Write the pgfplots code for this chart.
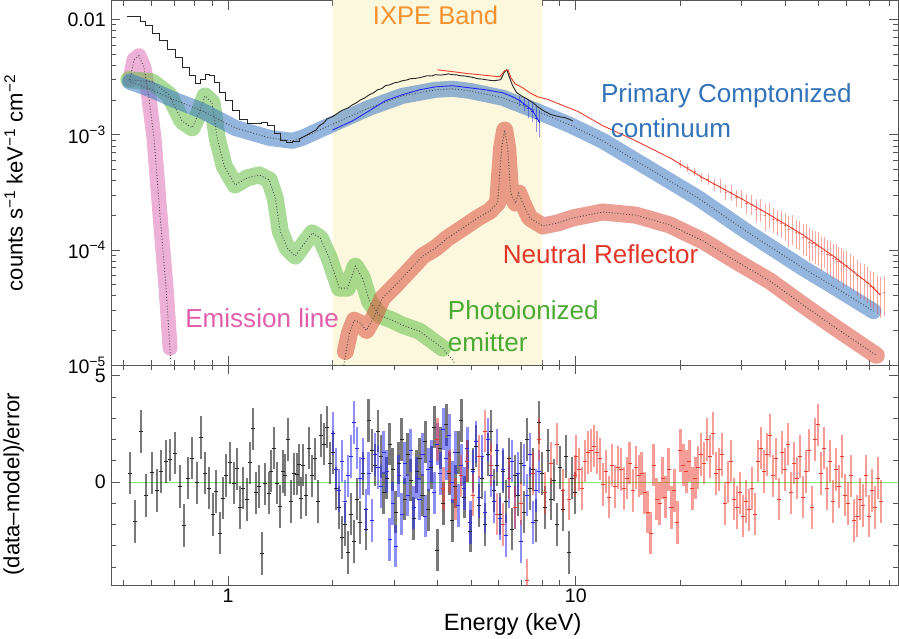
\documentclass[border=0pt]{standalone}
\usepackage{fontspec}
\setmainfont{Liberation Sans}
\usepackage{pgfplots}
\pgfplotsset{compat=1.18}

\definecolor{ixpe}{RGB}{252,248,222}
\definecolor{bandblue}{RGB}{60,120,195}
\definecolor{bandgreen}{RGB}{100,190,70}
\definecolor{bandpink}{RGB}{220,100,175}
\definecolor{bandred}{RGB}{220,80,60}
\definecolor{txtorange}{RGB}{245,146,47}
\definecolor{txtblue}{RGB}{50,115,185}
\definecolor{txtred}{RGB}{225,55,40}
\definecolor{txtgreen}{RGB}{75,170,50}
\definecolor{txtpink}{RGB}{225,95,170}
\definecolor{datblue}{RGB}{40,40,245}
\definecolor{datred}{RGB}{235,60,45}
\definecolor{axgray}{RGB}{85,85,85}
\definecolor{zeroline}{RGB}{140,230,120}

\tikzset{
  bnd/.style={line cap=round, line join=round, opacity=#1},
  mdlline/.style={black!70, dotted, line width=0.9pt},
  lbl/.style={anchor=west, inner sep=0pt, font=\fontsize{26}{30}\selectfont},
}

\begin{document}
\begin{tikzpicture}
% ---------- spectrum ----------
\begin{loglogaxis}[name=top, scale only axis, width=785pt, height=363.7pt,
    xmin=0.461, xmax=84.7, ymin=1e-5, ymax=0.01462,
    axis line style={draw=axgray, line width=1.2pt},
    tick style={draw=axgray, line width=1pt},
    major tick length=9pt, minor tick length=5pt,
    tick align=inside, xtick pos=both, ytick pos=both,
    xtick={1,10},
    minor xtick={0.5,0.6,0.7,0.8,0.9,2,3,4,5,6,7,8,9,20,30,40,50,60,70,80},
    xticklabels={},
    ytick={1e-5,1e-4,1e-3,1e-2},
    yticklabels={10\textsuperscript{−5},10\textsuperscript{−4},10\textsuperscript{−3},0.01},
    minor ytick={2e-5,3e-5,4e-5,5e-5,6e-5,7e-5,8e-5,9e-5,2e-4,3e-4,4e-4,5e-4,6e-4,7e-4,8e-4,9e-4,2e-3,3e-3,4e-3,5e-3,6e-3,7e-3,8e-3,9e-3},
    tick label style={font=\fontsize{19.5}{22}\selectfont},
    yticklabel style={xshift=-2pt},
    ylabel={counts s\textsuperscript{−1} keV\textsuperscript{−1} cm\textsuperscript{−2}},
    ylabel style={font=\fontsize{22}{25}\selectfont, at={(axis description cs:-0.124,0.5)}, anchor=center},
  ]
  % IXPE band
  \addplot[draw=none, fill=ixpe] coordinates {(2,1e-5) (2,0.02) (8,0.02) (8,1e-5) (2,1e-5)};

  % emission line
  \addplot[bandpink, line width=15pt, bnd=0.5] coordinates {
    (0.522,0.00301) (0.536,0.00449) (0.554,0.00487) (0.573,0.00383) (0.592,0.00210)
    (0.612,0.000942) (0.628,0.000346) (0.645,0.000127) (0.663,4.68e-5) (0.681,1.41e-5)};
  % photoionized emitter
  \addplot[bandgreen, line width=17pt, bnd=0.55] coordinates {
    (0.518,0.00301) (0.604,0.00289) (0.676,0.00223) (0.737,0.00132) (0.788,0.00115)
    (0.825,0.00155) (0.858,0.00218) (0.899,0.00190) (0.930,0.000942) (0.974,0.000537)
    (1.047,0.000367) (1.134,0.000423) (1.228,0.000449) (1.313,0.000406) (1.366,0.000283)
    (1.412,0.000146) (1.479,0.000104) (1.560,8.87e-5) (1.634,0.000108) (1.746,0.000141)
    (1.842,0.000127) (1.954,8.51e-5) (2.089,4.68e-5) (2.203,4.68e-5) (2.323,7.26e-5)
    (2.433,5.72e-5) (2.549,3.61e-5) (2.724,2.72e-5) (2.969,2.46e-5) (3.173,2.23e-5)
    (3.551,1.98e-5) (4.138,1.41e-5)};
  % neutral reflector
  \addplot[bandred, line width=17pt, bnd=0.55] coordinates {
    (2.174,1.32e-5) (2.232,1.90e-5) (2.307,2.46e-5) (2.401,2.32e-5) (2.499,2.01e-5)
    (2.635,2.67e-5) (2.779,3.83e-5) (3.029,4.97e-5) (3.324,6.70e-5) (3.623,8.87e-5)
    (3.950,0.000104) (4.277,0.000127) (4.725,0.000155) (5.220,0.000190) (5.651,0.000218)
    (5.958,0.000256) (6.119,0.000771) (6.245,0.00110) (6.368,0.000771) (6.495,0.000313)
    (6.714,0.000256) (6.850,0.000313) (7.036,0.000256) (7.370,0.000190) (8.035,0.000162)
    (8.874,0.000172) (9.80,0.000190) (11.96,0.000214) (14.89,0.000201) (18.66,0.000165)
    (23.23,0.000120) (28.91,8.02e-5) (36.24,5.37e-5) (45.1,3.33e-5) (56.1,2.10e-5)
    (73.2,1.22e-5)};
  % primary continuum
  \addplot[bandblue, line width=16pt, bnd=0.55] coordinates {
    (0.522,0.00289) (0.604,0.00246) (0.676,0.00210) (0.841,0.00162) (1.047,0.00115)
    (1.313,0.000942) (1.529,0.000887) (1.634,0.000942) (2.034,0.00127) (2.549,0.00172)
    (3.173,0.00218) (3.950,0.00246) (4.421,0.00251) (4.950,0.00241) (6.16,0.00210)
    (7.67,0.00162) (9.61,0.00122) (11.96,0.000887) (16.67,0.000486) (22.47,0.000283)
    (30.9,0.000146) (45.1,6.97e-5) (56.1,4.68e-5) (71.8,2.95e-5)};

  % model components (dotted)
  \addplot[mdlline] coordinates {
    (0.522,0.00301) (0.536,0.00449) (0.554,0.00487) (0.573,0.00383) (0.592,0.00210)
    (0.612,0.000942) (0.628,0.000346) (0.645,0.000127) (0.663,4.68e-5) (0.685,1.0e-5)};
  \addplot[mdlline] coordinates {
    (0.518,0.00301) (0.604,0.00289) (0.676,0.00223) (0.737,0.00132) (0.788,0.00115)
    (0.825,0.00155) (0.858,0.00218) (0.899,0.00190) (0.930,0.000942) (0.974,0.000537)
    (1.047,0.000367) (1.134,0.000423) (1.228,0.000449) (1.313,0.000406) (1.366,0.000283)
    (1.412,0.000146) (1.479,0.000104) (1.560,8.87e-5) (1.634,0.000108) (1.746,0.000141)
    (1.842,0.000127) (1.954,8.51e-5) (2.089,4.68e-5) (2.203,4.68e-5) (2.323,7.26e-5)
    (2.433,5.72e-5) (2.549,3.61e-5) (2.724,2.72e-5) (2.969,2.46e-5) (3.173,2.23e-5)
    (3.551,1.98e-5) (4.138,1.41e-5) (4.51,1.03e-5)};
  \addplot[mdlline] coordinates {
    (2.15,1.0e-5) (2.232,1.90e-5) (2.307,2.46e-5) (2.401,2.32e-5) (2.499,2.01e-5)
    (2.635,2.67e-5) (2.779,3.83e-5) (3.029,4.97e-5) (3.324,6.70e-5) (3.623,8.87e-5)
    (3.950,0.000104) (4.277,0.000127) (4.725,0.000155) (5.220,0.000190) (5.651,0.000218)
    (5.958,0.000256) (6.119,0.000771) (6.245,0.00110) (6.368,0.000771) (6.495,0.000313)
    (6.714,0.000256) (6.850,0.000313) (7.036,0.000256) (7.370,0.000190) (8.035,0.000162)
    (8.874,0.000172) (9.80,0.000190) (11.96,0.000214) (14.89,0.000201) (18.66,0.000165)
    (23.23,0.000120) (28.91,8.02e-5) (36.24,5.37e-5) (45.1,3.33e-5) (56.1,2.10e-5)
    (73.2,1.22e-5)};
  \addplot[mdlline] coordinates {
    (0.522,0.00289) (0.604,0.00246) (0.676,0.00210) (0.841,0.00162) (1.047,0.00115)
    (1.313,0.000942) (1.529,0.000887) (1.634,0.000942) (2.034,0.00127) (2.549,0.00172)
    (3.173,0.00218) (3.950,0.00246) (4.421,0.00251) (4.950,0.00241) (6.16,0.00210)
    (7.67,0.00162) (9.61,0.00122) (11.96,0.000887) (16.67,0.000486) (22.47,0.000283)
    (30.9,0.000146) (45.1,6.97e-5) (56.1,4.68e-5) (71.8,2.95e-5)};

  % data: black
  \addplot[black!85, line width=0.9pt, const plot] coordinates {
    (0.512,0.01062) (0.540,0.0106) (0.558,0.00961) (0.577,0.00887) (0.604,0.00756)
    (0.633,0.00657) (0.667,0.00548) (0.704,0.00468) (0.737,0.00383) (0.772,0.00326)
    (0.803,0.00278) (0.830,0.00301) (0.858,0.00333) (0.882,0.00326) (0.911,0.00283)
    (0.942,0.00232) (0.980,0.00198) (1.027,0.00162) (1.076,0.00135) (1.134,0.00125)
    (1.188,0.00125) (1.245,0.00127) (1.296,0.00120) (1.357,0.00102) (1.412,0.000887)
    (1.469,0.000852) (1.529,0.000869) (1.602,0.000923)};
  \addplot[black!85, line width=0.9pt] coordinates {
    (1.602,0.000923) (1.667,0.000980) (1.746,0.00106) (1.79,0.00110) (1.829,0.00120)
    (1.88,0.00126) (1.929,0.00138) (1.98,0.00142) (2.034,0.00149) (2.09,0.00158)
    (2.145,0.00165) (2.21,0.00171) (2.277,0.00182) (2.34,0.00190) (2.401,0.00201)
    (2.47,0.00209) (2.549,0.00223) (2.62,0.00232) (2.688,0.00246) (2.76,0.00251)
    (2.835,0.00267) (2.92,0.00272) (3.009,0.00283) (3.09,0.00287) (3.173,0.00295)
    (3.26,0.00299) (3.346,0.00307) (3.45,0.00309) (3.551,0.00313) (3.65,0.00320)
    (3.745,0.00326) (3.85,0.00324) (3.950,0.00333) (4.07,0.00330) (4.194,0.00333)
    (4.30,0.00338) (4.421,0.00333) (4.54,0.00331) (4.663,0.00326) (4.80,0.00324)
    (4.950,0.00319) (5.08,0.00314) (5.220,0.00307) (5.36,0.00305) (5.504,0.00301)
    (5.68,0.00297) (5.843,0.00295) (6.08,0.00301) (6.24,0.00353) (6.33,0.00367)
    (6.45,0.00313) (6.58,0.00267) (6.76,0.00232) (7.04,0.00214) (7.20,0.00207)
    (7.37,0.00198) (7.57,0.00188) (7.77,0.00175) (7.98,0.00166) (8.19,0.00158)
    (8.48,0.00150) (8.76,0.00146) (9.03,0.00143) (9.30,0.00141) (9.55,0.00137) (9.80,0.00132)};
  % data: blue
  \addplot[datblue, line width=0.9pt] coordinates {
    (1.994,0.00110) (2.277,0.00132) (2.549,0.00162) (2.835,0.00198) (3.173,0.00223)
    (3.551,0.00246) (3.950,0.00261) (4.421,0.00267) (4.950,0.00256) (5.504,0.00246)
    (6.16,0.00232) (6.58,0.00214) (6.90,0.00198) (7.52,0.00162) (7.88,0.00127)};
  \addplot[datblue, only marks, mark=-, mark size=1pt, mark options={line width=0.5pt},
      error bars/.cd, y dir=both, y explicit,
      error bar style={line width=0.7pt, draw opacity=0.5}, error mark=none] coordinates {
    (6.9,0.00198) +- (0,0.0002) (7.1,0.00185) +- (0,0.00025) (7.3,0.00170) +- (0,0.0003)
    (7.5,0.00160) +- (0,0.0003) (7.7,0.00140) +- (0,0.00035) (7.85,0.00130) +- (0,0.00035)};
  % data: red
  \addplot[datred, line width=0.9pt] coordinates {
    (4.00,0.00367) (4.95,0.00339) (6.04,0.00319) (6.24,0.00360) (6.38,0.00367)
    (6.51,0.00313) (6.69,0.00277) (7.04,0.00256) (7.37,0.00232) (7.77,0.00214)
    (8.31,0.00203) (9.17,0.00180) (10.13,0.00160) (11.96,0.00120) (14.89,0.000887)
    (18.66,0.000631) (23.23,0.000423) (29.70,0.000283) (36.24,0.000201) (45.1,0.000135)
    (56.1,8.51e-5) (70.4,4.97e-5) (75.2,4.07e-5)};
  \addplot[datred, only marks, mark=-, mark size=1.2pt, mark options={line width=0.5pt, opacity=0.6},
      error bars/.cd, y dir=both, y explicit,
      error bar style={line width=0.8pt, draw opacity=0.45}, error mark=none] coordinates {
    (20,5.6e-4) +- (0,0.4e-4) (21,5.2e-4) +- (0,0.4e-4) (22,4.8e-4) +- (0,0.4e-4)
    (23,4.3e-4) +- (0,0.4e-4) (24,4.1e-4) +- (0,0.45e-4) (25,3.7e-4) +- (0,0.45e-4)
    (26,3.6e-4) +- (0,0.5e-4) (27,3.2e-4) +- (0,0.5e-4) (28,3.15e-4) +- (0,0.5e-4)
    (29,2.85e-4) +- (0,0.5e-4) (30,2.8e-4) +- (0,0.5e-4) (31,2.55e-4) +- (0,0.5e-4)
    (32,2.5e-4) +- (0,0.5e-4) (33,2.25e-4) +- (0,0.5e-4) (34,2.25e-4) +- (0,0.5e-4)
    (35,2.0e-4) +- (0,0.5e-4) (36,2.05e-4) +- (0,0.5e-4) (37,1.85e-4) +- (0,0.45e-4)
    (38,1.8e-4) +- (0,0.45e-4) (39,1.72e-4) +- (0,0.45e-4) (40,1.65e-4) +- (0,0.45e-4)
    (41,1.52e-4) +- (0,0.45e-4) (42,1.55e-4) +- (0,0.45e-4) (43,1.42e-4) +- (0,0.4e-4)
    (44,1.4e-4) +- (0,0.4e-4) (45,1.3e-4) +- (0,0.4e-4) (46,1.28e-4) +- (0,0.4e-4)
    (47,1.18e-4) +- (0,0.37e-4) (48,1.15e-4) +- (0,0.35e-4) (49,1.1e-4) +- (0,0.35e-4)
    (50,1.08e-4) +- (0,0.35e-4) (51,0.98e-4) +- (0,0.32e-4) (52,1.0e-4) +- (0,0.3e-4)
    (53,0.92e-4) +- (0,0.3e-4) (54,0.9e-4) +- (0,0.3e-4) (55,0.85e-4) +- (0,0.29e-4)
    (56,8.4e-5) +- (0,2.8e-5) (57,8.0e-5) +- (0,2.7e-5) (58,7.9e-5) +- (0,2.6e-5)
    (59,7.3e-5) +- (0,2.5e-5) (60,7.4e-5) +- (0,2.5e-5) (61.5,6.9e-5) +- (0,2.3e-5)
    (63,6.6e-5) +- (0,2.2e-5) (64.5,6.1e-5) +- (0,2.1e-5) (66,5.8e-5) +- (0,2.0e-5)
    (67.5,5.6e-5) +- (0,1.9e-5) (69,5.3e-5) +- (0,1.8e-5) (70.5,4.9e-5) +- (0,1.7e-5)
    (72,4.8e-5) +- (0,1.7e-5) (73.5,4.4e-5) +- (0,1.6e-5) (75,4.2e-5) +- (0,1.6e-5)
    (77,4.3e-5) +- (0,1.6e-5)};

  % labels
  \node[txtorange, font=\fontsize{25.5}{29}\selectfont] at (axis cs:3.95,0.0108) {IXPE Band};
  \node[txtblue, lbl] at (axis cs:11.8,0.00218) {Primary Comptonized};
  \node[txtblue, lbl] at (axis cs:12.6,0.00115) {continuum};
  \node[txtred, lbl] at (axis cs:6.16,9.23e-5) {Neutral Reflector};
  \node[txtgreen, lbl] at (axis cs:4.28,3.01e-5) {Photoionized};
  \node[txtgreen, lbl] at (axis cs:4.28,1.585e-5) {emitter};
  \node[txtpink, lbl] at (axis cs:0.752,2.56e-5) {Emission line};
\end{loglogaxis}

% ---------- residuals ----------
\begin{semilogxaxis}[at={(top.south west)}, anchor=north west,
    scale only axis, width=785pt, height=219.3pt,
    xmin=0.461, xmax=84.7, ymin=-4.85, ymax=5.5,
    axis line style={draw=axgray, line width=1.2pt},
    tick style={draw=axgray, line width=1pt},
    major tick length=9pt, minor tick length=5pt,
    tick align=inside, xtick pos=both, ytick pos=both,
    xtick={1,10}, xticklabels={1,10},
    minor xtick={0.5,0.6,0.7,0.8,0.9,2,3,4,5,6,7,8,9,20,30,40,50,60,70,80},
    ytick={0,5}, yticklabels={0,5}, minor ytick={-4,-3,-2,-1,1,2,3,4},
    tick label style={font=\fontsize{19.5}{22}\selectfont},
    yticklabel style={xshift=-2pt},
    ylabel={(data–model)/error},
    ylabel style={font=\fontsize{22}{25}\selectfont, at={(axis description cs:-0.124,0.46)}, anchor=center},
    xlabel={Energy (keV)},
    xlabel style={font=\fontsize{23.5}{27}\selectfont, at={(axis description cs:0.51,-0.178)}, anchor=center},
  ]
  \addplot[zeroline, line width=0.9pt] coordinates {(0.52,0) (85,0)};

  % black residuals
  \addplot[black!85, only marks, mark=-, mark size=2pt, mark options={line width=0.8pt},
      error bars/.cd, y dir=both, y fixed=1,
      error bar style={line width=2.3pt, draw opacity=0.62}, error mark=none] coordinates {
    (0.521,0.42) (0.539,-1.86) (0.561,2.39) (0.580,-0.63) (0.604,0.44) (0.624,-0.40)
    (0.641,0.50) (0.663,0.97) (0.681,1.05) (0.704,1.37) (0.727,-0.20) (0.747,-2.05)
    (0.767,0.19) (0.788,1.13) (0.814,-0.03) (0.836,2.10) (0.858,0.42) (0.882,-0.28)
    (0.905,-1.51) (0.923,-0.44) (0.948,-2.40) (0.967,-0.75) (0.987,0.31) (1.013,0.91)
    (1.041,-0.05) (1.062,0.63) (1.083,-1.20) (1.105,-0.28) (1.134,-0.82) (1.157,0.91)
    (1.180,2.51) (1.204,-0.50) (1.228,-0.20) (1.253,-3.35) (1.278,-0.08) (1.313,-0.52)
    (1.330,0.53) (1.357,1.60) (1.384,-0.05) (1.412,-1.15) (1.440,0.50) (1.460,0.34)
    (1.489,2.00) (1.519,-0.92) (1.549,0.39) (1.580,0.38) (1.602,0.82) (1.623,-0.75)
    (1.641,0.8) (1.673,-0.6) (1.707,1.6) (1.741,0.3) (1.776,1.1) (1.811,-0.9)
    (1.848,2.2) (1.885,1.8) (1.922,2.6) (1.961,0.9) (2.000,1.4) (2.040,-0.3)
    (2.081,-1.2) (2.122,-2.6) (2.165,-2.0) (2.208,-3.3) (2.252,-1.5) (2.297,-2.8)
    (2.343,-0.8) (2.390,-1.9) (2.438,0.4) (2.487,-2.2) (2.536,2.9) (2.587,1.5)
    (2.639,0.8) (2.692,2.4) (2.746,1.2) (2.800,-0.5) (2.856,0.2) (2.914,1.8)
    (2.972,0.6) (3.031,-1.4) (3.092,0.9) (3.154,2.0) (3.217,-0.8) (3.281,1.3)
    (3.347,0.1) (3.414,-1.7) (3.482,0.5) (3.552,1.1) (3.623,-0.6) (3.695,1.9)
    (3.769,-1.3) (3.844,0.7) (3.921,2.6) (4.000,-3.2) (4.080,1.6) (4.162,-1.0)
    (4.245,2.7) (4.330,0.4) (4.416,-1.8) (4.505,-0.2) (4.595,1.4) (4.687,2.9)
    (4.780,-0.7) (4.876,1.0) (4.974,-2.3) (5.073,0.6) (5.174,1.7) (5.278,-1.1)
    (5.384,0.2) (5.491,-2.0) (5.601,1.3) (5.713,2.4) (5.827,-0.4) (5.944,0.8)
    (6.063,-1.5) (6.184,0.5) (6.308,-0.9) (6.434,1.1) (6.562,-2.2) (6.694,0.3)
    (6.828,-0.6) (6.964,0.9) (7.103,-1.4) (7.246,2.0) (7.390,-0.3) (7.538,0.6)
    (7.689,-1.8) (7.843,2.8) (8.000,0.4) (8.160,-1.2) (8.323,1.5) (8.490,-0.8)
    (8.659,0.1) (8.833,-2.0) (9.010,0.7) (9.190,-1.3) (9.374,1.2) (9.561,-3.3)
    (9.752,0.2) (9.947,-0.5)};

  % blue residuals
  \addplot[datblue, only marks, mark=-, mark size=2pt, mark options={line width=0.8pt},
      error bars/.cd, y dir=both, y fixed=1,
      error bar style={line width=2.3pt, draw opacity=0.52}, error mark=none] coordinates {
    (2.000,2.3) (2.040,0.6) (2.081,-0.4) (2.122,1.0) (2.165,-0.9) (2.208,0.3)
    (2.252,1.2) (2.297,2.8) (2.343,1.6) (2.390,0.2) (2.438,1.1) (2.487,-1.3)
    (2.536,0.4) (2.587,-1.8) (2.639,1.3) (2.692,0.7) (2.746,-0.2) (2.800,1.4)
    (2.856,0.5) (2.914,-2.7) (2.972,-1.0) (3.031,-3.0) (3.092,0.3) (3.154,-1.5)
    (3.217,0.9) (3.281,-0.6) (3.347,1.5) (3.414,-1.2) (3.482,0.2) (3.552,-0.8)
    (3.623,1.3) (3.695,-1.6) (3.769,0.6) (3.844,1.0) (3.921,-0.5) (4.000,1.8)
    (4.080,0.4) (4.162,2.5) (4.245,1.1) (4.330,2.2) (4.416,0.0) (4.505,1.4)
    (4.595,-1.1) (4.687,0.8) (4.780,-0.3) (4.876,1.6) (4.974,-1.9) (5.073,0.5)
    (5.174,1.9) (5.278,-0.7) (5.384,1.2) (5.491,-1.4) (5.601,2.0) (5.713,0.3)
    (5.827,-0.9) (5.944,1.5) (6.063,-1.7) (6.184,0.6) (6.308,-2.5) (6.434,-0.2)
    (6.562,1.0) (6.694,-1.2) (6.828,0.4) (6.964,-2.8) (7.103,0.8) (7.246,-0.6)
    (7.390,1.3) (7.538,-1.9) (7.689,-0.4) (7.843,0.5)};

  % red residuals
  \addplot[datred, only marks, mark=-, mark size=2pt, mark options={line width=0.8pt},
      error bars/.cd, y dir=both, y fixed=1,
      error bar style={line width=2.2pt, draw opacity=0.5}, error mark=none] coordinates {
    (4.000,2.0) (4.162,-0.3) (4.330,0.5) (4.505,-0.8) (4.687,0.3) (4.876,1.0)
    (5.073,-0.6) (5.278,1.2) (5.491,2.4) (5.713,0.8) (5.944,-1.5) (6.184,-2.0)
    (6.434,0.2) (6.694,-1.2) (6.964,-1.0) (7.246,-4.6) (7.538,0.4) (7.843,2.0)
    (8.160,-0.5) (8.490,0.9) (8.833,1.8) (9.190,-0.4) (9.561,-0.8) (9.947,0.3)
    (10.00,1.2) (10.20,0.6) (10.40,-0.3) (10.61,1.0) (10.82,1.4) (11.04,1.5)
    (11.26,1.7) (11.49,1.4) (11.72,1.1) (11.95,-0.1) (12.19,0.5) (12.43,-0.7)
    (12.68,0.8) (12.94,-0.2) (13.20,0.7) (13.46,0.6) (13.73,-0.3) (14.00,0.2)
    (14.28,0.9) (14.57,-0.4) (14.86,0.7) (15.16,0.3) (15.46,0.4) (15.77,-0.5)
    (16.08,-1.4) (16.41,-2.4) (16.73,0.8) (17.07,-0.8) (17.41,-1.0) (17.76,0.2)
    (18.11,-0.7) (18.48,0.6) (18.85,-1.2) (19.22,-0.4) (19.61,-1.9) (20.00,1.5)
    (20.40,0.8) (20.81,0.5) (21.22,1.0) (21.65,-0.3) (22.08,0.2) (22.52,0.7)
    (22.97,1.3) (23.43,0.9) (23.90,2.0) (24.38,1.2) (24.87,2.3) (25.36,0.4)
    (25.87,0.6) (26.39,1.3) (26.92,-1.0) (27.46,0.0) (28.00,1.0) (28.56,-0.8)
    (29.14,-1.2) (29.72,-0.5) (30.31,-1.6) (30.92,-0.9) (31.54,-1.3) (32.17,-0.3)
    (32.81,-1.5) (33.47,1.0) (34.14,1.6) (34.82,0.5) (35.52,1.3) (36.23,2.2)
    (36.95,0.3) (37.69,1.1) (38.44,-0.8) (39.21,1.4) (40.00,0.6) (40.80,1.8)
    (41.62,-0.5) (42.45,0.9) (43.30,0.2) (44.16,1.2) (45.05,-0.7) (45.95,0.5)
    (46.87,1.5) (47.80,-1.2) (48.76,2.0) (49.74,2.7) (50.73,0.4) (51.74,1.6)
    (52.78,-0.3) (53.84,1.0) (54.91,-0.9) (56.01,0.6) (57.13,-0.2) (58.27,1.2)
    (59.44,-0.6) (60.63,-1.0) (61.84,0.3) (63.08,-1.8) (64.34,-1.6) (65.62,-0.8)
    (66.94,-1.1) (68.28,0.3) (69.64,-1.6) (71.03,-0.4) (72.46,-1.2) (73.90,0.2)
    (75.38,-0.9)};
\end{semilogxaxis}
\end{tikzpicture}
\end{document}
